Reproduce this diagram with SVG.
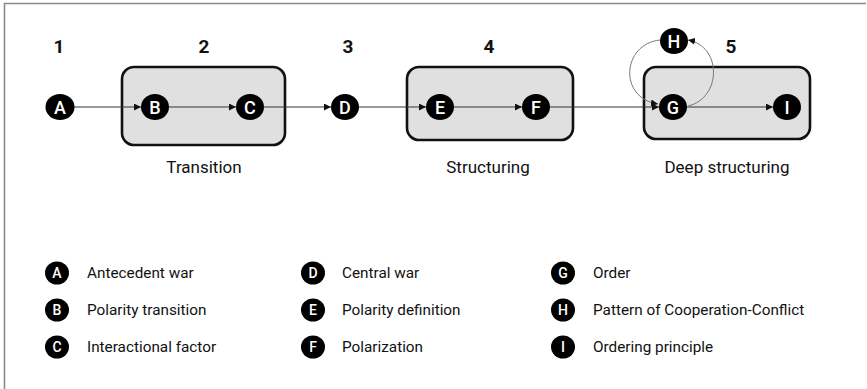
<svg xmlns="http://www.w3.org/2000/svg" width="867" height="389" viewBox="0 0 867 389">
  <defs>
    <marker id="arrow" viewBox="0 0 10 10" refX="10" refY="5" markerWidth="7" markerHeight="7" markerUnits="userSpaceOnUse" orient="auto">
      <path d="M0,0 L10,5 L0,10 z" fill="#111"/>
    </marker>
    <style>
      .frame { stroke: #8a8a8a; stroke-width: 1.6; fill: none; }
      .stage { fill: #e0e0e0; stroke: #111; stroke-width: 2.6; }
      .node { fill: #000; }
      .nl { fill: #fff; font-family: Roboto, "Liberation Sans", sans-serif; font-size: 18px; font-weight: 500; text-anchor: middle; }
      .ll { fill: #fff; font-family: Roboto, "Liberation Sans", sans-serif; font-size: 14px; font-weight: 500; text-anchor: middle; }
      .num { fill: #111; font-family: Roboto, "Liberation Sans", sans-serif; font-size: 19px; font-weight: 700; text-anchor: middle; }
      .cap { fill: #111; font-family: Roboto, "Liberation Sans", sans-serif; font-size: 17px; text-anchor: middle; }
      .leg { fill: #111; font-family: Roboto, "Liberation Sans", sans-serif; font-size: 15.3px; }
      .edge { stroke: #333; stroke-width: 1; fill: none; marker-end: url(#arrow); }
      .loop { stroke: #777; stroke-width: 1; fill: none; marker-end: url(#arrow); }
    </style>
  </defs>

  <!-- frame -->
  <path class="frame" d="M4.5,389 L4.5,3.5 L866,3.5"/>

  <!-- stage numbers -->
  <g id="stage-numbers">
    <text class="num" x="59" y="53">1</text>
    <text class="num" x="204" y="53">2</text>
    <text class="num" x="348" y="53">3</text>
    <text class="num" x="489" y="53">4</text>
    <text class="num" x="731" y="53">5</text>
  </g>

  <!-- stage boxes -->
  <g id="stage-transition">
    <rect class="stage" x="122" y="67" width="163" height="78" rx="12"/>
    <text class="cap" x="204" y="173">Transition</text>
  </g>
  <g id="stage-structuring">
    <rect class="stage" x="407" y="67" width="166" height="73" rx="12"/>
    <text class="cap" x="488" y="173">Structuring</text>
  </g>
  <g id="stage-deep">
    <rect class="stage" x="644" y="67" width="166" height="72" rx="12"/>
    <text class="cap" x="727" y="173">Deep structuring</text>
  </g>

  <!-- connectors -->
  <g id="connectors">
    <line class="edge" x1="74" y1="107" x2="141" y2="107"/>
    <line class="edge" x1="169" y1="107" x2="236" y2="107"/>
    <line class="edge" x1="264" y1="107" x2="331" y2="107"/>
    <line class="edge" x1="359" y1="107" x2="426" y2="107"/>
    <line class="edge" x1="454" y1="107" x2="522" y2="107"/>
    <line class="edge" x1="550" y1="107" x2="659" y2="107"/>
    <line class="edge" x1="687" y1="107" x2="773" y2="107"/>
    <path class="loop" d="M660,40 C622,44 618,98 658,104"/>
    <path class="loop" d="M688,106 C722,98 722,46 688,40"/>
  </g>

  <!-- flow nodes -->
  <g id="node-A"><ellipse class="node" cx="60" cy="107" rx="14.5" ry="13"/><text class="nl" x="60" y="113.5">A</text></g>
  <g id="node-B"><ellipse class="node" cx="155" cy="107" rx="14" ry="13"/><text class="nl" x="155" y="113.5">B</text></g>
  <g id="node-C"><ellipse class="node" cx="250" cy="107" rx="14" ry="13"/><text class="nl" x="250" y="113.5">C</text></g>
  <g id="node-D"><ellipse class="node" cx="345" cy="107" rx="14" ry="13"/><text class="nl" x="345" y="113.5">D</text></g>
  <g id="node-E"><ellipse class="node" cx="440" cy="107" rx="14" ry="13"/><text class="nl" x="440" y="113.5">E</text></g>
  <g id="node-F"><ellipse class="node" cx="536" cy="107" rx="14" ry="13"/><text class="nl" x="536" y="113.5">F</text></g>
  <g id="node-G"><ellipse class="node" cx="673" cy="107" rx="14" ry="13"/><text class="nl" x="673" y="113.5">G</text></g>
  <g id="node-H"><ellipse class="node" cx="674" cy="41" rx="14" ry="13"/><text class="nl" x="674" y="47.5">H</text></g>
  <g id="node-I"><ellipse class="node" cx="787" cy="107" rx="14" ry="13"/><text class="nl" x="787" y="113.5">I</text></g>

  <!-- legend -->
  <g id="legend">
    <g id="legend-A"><ellipse class="node" cx="57" cy="273" rx="12" ry="11.5"/><text class="ll" x="57" y="278">A</text><text class="leg" x="87" y="278">Antecedent war</text></g>
    <g id="legend-B"><ellipse class="node" cx="57" cy="310" rx="12" ry="11.5"/><text class="ll" x="57" y="315">B</text><text class="leg" x="87" y="315">Polarity transition</text></g>
    <g id="legend-C"><ellipse class="node" cx="57" cy="347" rx="12" ry="11.5"/><text class="ll" x="57" y="352">C</text><text class="leg" x="87" y="352">Interactional factor</text></g>
    <g id="legend-D"><ellipse class="node" cx="313" cy="273" rx="12" ry="11.5"/><text class="ll" x="313" y="278">D</text><text class="leg" x="342" y="278">Central war</text></g>
    <g id="legend-E"><ellipse class="node" cx="313" cy="310" rx="12" ry="11.5"/><text class="ll" x="313" y="315">E</text><text class="leg" x="342" y="315">Polarity definition</text></g>
    <g id="legend-F"><ellipse class="node" cx="313" cy="347" rx="12" ry="11.5"/><text class="ll" x="313" y="352">F</text><text class="leg" x="342" y="352">Polarization</text></g>
    <g id="legend-G"><ellipse class="node" cx="563" cy="273" rx="12" ry="11.5"/><text class="ll" x="563" y="278">G</text><text class="leg" x="593" y="278">Order</text></g>
    <g id="legend-H"><ellipse class="node" cx="563" cy="310" rx="12" ry="11.5"/><text class="ll" x="563" y="315">H</text><text class="leg" x="593" y="315">Pattern of Cooperation-Conflict</text></g>
    <g id="legend-I"><ellipse class="node" cx="563" cy="347" rx="12" ry="11.5"/><text class="ll" x="563" y="352">I</text><text class="leg" x="593" y="352">Ordering principle</text></g>
  </g>
</svg>
